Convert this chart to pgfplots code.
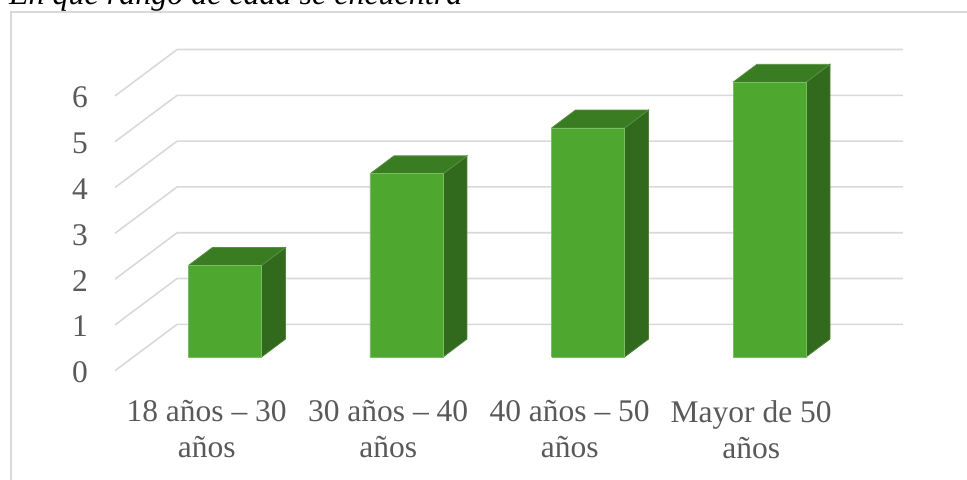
\documentclass[border=0pt]{standalone}
\usepackage{fontspec}
\setmainfont{Liberation Serif}
\usepackage{pgfplots}
\usepackage{pgfplotstable}
\pgfplotsset{compat=1.18}

\definecolor{barfront}{RGB}{78,167,46}
\definecolor{bartop}{RGB}{57,124,34}
\definecolor{barside}{RGB}{50,106,29}
\definecolor{gridgray}{RGB}{217,217,217}
\definecolor{labelgray}{RGB}{89,89,89}

% count per age range
\pgfplotstableread{
x v
0 2
1 4
2 5
3 6
}\agedata

\begin{document}
\begin{tikzpicture}
\begin{axis}[
    x=181.5pt, y=45.8pt,
    xmin=-0.505, xmax=3.836,
    ymin=-0.64, ymax=7.5,
    clip=false,
    axis line style={draw=none},
    tick style={draw=none},
    xtick={0,1,2,3},
    xticklabels={18 años – 30\\años, 30 años – 40\\años, 40 años – 50\\años, Mayor de 50\\años},
    xticklabel style={inner sep=0pt, align=center, font=\fontsize{31.5}{36}\selectfont, text=labelgray},
    ytick={0,...,6},
    yticklabel style={inner sep=0pt, xshift=-27pt, yshift=-1.5pt, font=\fontsize{31.5}{36}\selectfont, text=labelgray},
    /pgf/number format/assume math mode=true,
]

% back wall and floor-edge grid lines
\pgfplotsforeachungrouped \k in {0,...,6}{%
  \pgfmathsetmacro\yf{\k}
  \pgfmathsetmacro\yk{\k+1.013}
  \edef\temp{\noexpand\addplot[draw=gridgray, line width=1.6pt, no marks, forget plot]
    coordinates {(-0.505,\yf) (-0.163,\yk) (3.836,\yk)};}
  \temp
}

% 3d bars: side, top, front
\pgfplotsforeachungrouped \i in {0,1,2,3}{%
  \pgfplotstablegetelem{\i}{v}\of\agedata
  \pgfmathsetmacro\xl{\i-0.1003}
  \pgfmathsetmacro\xr{\i+0.3019}
  \pgfmathsetmacro\xlb{\xl+0.1322}
  \pgfmathsetmacro\xrb{\xr+0.1322}
  \pgfmathsetmacro\yb{0.2989}
  \pgfmathsetmacro\yt{\pgfplotsretval+0.2989}
  \pgfmathsetmacro\ybb{\yb+0.392}
  \pgfmathsetmacro\ytb{\yt+0.392}
  \edef\temp{%
    \noexpand\addplot[fill=barside, draw=barside!85!white, line width=0.8pt, no marks, forget plot]
      coordinates {(\xr,\yb) (\xrb,\ybb) (\xrb,\ytb) (\xr,\yt) (\xr,\yb)};
    \noexpand\addplot[fill=bartop, draw=bartop!85!white, line width=0.8pt, no marks, forget plot]
      coordinates {(\xl,\yt) (\xr,\yt) (\xrb,\ytb) (\xlb,\ytb) (\xl,\yt)};
    \noexpand\addplot[fill=barfront, draw=barfront!75!white, line width=0.8pt, no marks, forget plot]
      coordinates {(\xl,\yb) (\xr,\yb) (\xr,\yt) (\xl,\yt) (\xl,\yb)};
  }\temp
}

% chart frame and cut-off caption
\draw[gridgray, line width=1.6pt] (axis cs:-1.0782,-3) -- (axis cs:-1.0782,7.832) -- (axis cs:4.5,7.832);
\node[anchor=base west, inner sep=0pt, font=\fontsize{32}{38}\selectfont\itshape]
  at (axis cs:-1.0899,7.985) {En qué rango de edad se encuentra};

\coordinate (bbA) at (axis cs:-1.1388,-2.3646);
\coordinate (bbB) at (axis cs:4.1889,8.094);
\end{axis}
\pgfresetboundingbox
\path[use as bounding box] (bbA) rectangle (bbB);
\end{tikzpicture}
\end{document}
